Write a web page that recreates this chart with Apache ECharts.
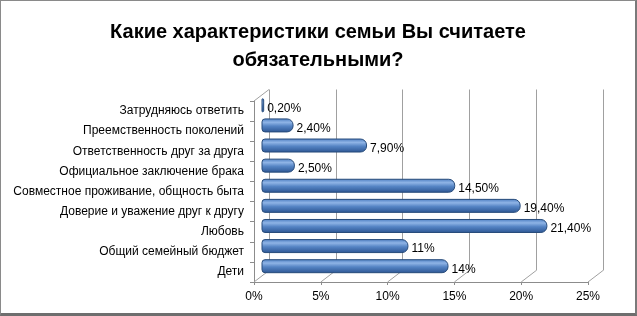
<!DOCTYPE html>
<html><head><meta charset="utf-8">
<script src="https://cdn.jsdelivr.net/npm/echarts@6/dist/echarts.min.js"></script>
<style>
html,body{margin:0;padding:0;background:#fff;}
#c{width:637px;height:316px;box-sizing:border-box;border-left:1px solid #8a8a8a;border-top:1px solid #8a8a8a;border-right:2px solid #7a7a7a;border-bottom:3px solid #6e6e6e;}
</style></head>
<body><div id="c"></div>
<script>
const categories = ["Дети","Общий семейный бюджет","Любовь","Доверие и уважение друг к другу","Совместное проживание, общность быта","Официальное заключение брака","Ответственность друг за друга","Преемственность поколений","Затрудняюсь ответить"];
const values = [14, 11, 21.4, 19.4, 14.5, 2.5, 7.9, 2.4, 0.2];
const valueLabels = ["14%","11%","21,40%","19,40%","14,50%","2,50%","7,90%","2,40%","0,20%"];
const tickValues = [0, 5, 10, 15, 20, 25];
const titleText = "Какие характеристики семьи Вы считаете\nобязательными?";

const FRONT = {left: 253, top: 100, right: 587, bottom: 281};
const DX = 15, DY = -11.5;
function gridAt(f){
  return {left: FRONT.left + DX*f, top: FRONT.top + DY*f, width: FRONT.right - FRONT.left, height: FRONT.bottom - FRONT.top};
}
const FONT = "Liberation Sans";
const chart = echarts.init(document.getElementById('c'), null, {renderer:'canvas'});
const xBase = {type:'value', min:0, max:25, interval:5};
const yBase = {type:'category', data:categories};
const option = {
  animation:false,
  title:{text:titleText, left:'center', top:12, textStyle:{fontFamily:FONT, fontSize:20, fontWeight:'bold', color:'#000', lineHeight:28}},
  grid:[gridAt(1), gridAt(0), gridAt(0.5)],
  xAxis:[
    Object.assign({}, xBase, {gridIndex:0, axisLine:{show:false}, axisTick:{show:false}, axisLabel:{show:false},
      splitLine:{show:true, lineStyle:{color:'#a0a0a0', width:1}}}),
    Object.assign({}, xBase, {gridIndex:1, axisLine:{show:true, lineStyle:{color:'#8c8c8c'}}, axisTick:{show:true, length:3, lineStyle:{color:'#8c8c8c'}},
      splitLine:{show:false},
      axisLabel:{margin:9, fontFamily:FONT, fontSize:12, color:'#000', formatter: v => v + '%'}}),
    Object.assign({}, xBase, {gridIndex:2, show:false, splitLine:{show:false}})
  ],
  yAxis:[
    Object.assign({}, yBase, {gridIndex:0, show:false}),
    Object.assign({}, yBase, {gridIndex:1, axisLine:{show:true, lineStyle:{color:'#8c8c8c'}}, axisTick:{show:true, length:4, lineStyle:{color:'#8c8c8c'}},
      axisLabel:{margin:10, fontFamily:FONT, fontSize:12, color:'#000'}}),
    Object.assign({}, yBase, {gridIndex:2, show:false})
  ],
  series:[
    {
      type:'custom', xAxisIndex:1, yAxisIndex:1, silent:true, z:1,
      data: tickValues.map(v => [v]),
      renderItem: function(params, api){
        const p = api.coord([api.value(0), categories[0]]);
        const cs = params.coordSys;
        const yb = cs.y + cs.height;
        const children = [{type:'line', shape:{x1:p[0], y1:yb, x2:p[0]+DX, y2:yb+DY}, style:{stroke:'#a0a0a0', lineWidth:1}}];
        if (api.value(0) === 0) {
          children.push({type:'line', shape:{x1:cs.x, y1:cs.y, x2:cs.x+DX, y2:cs.y+DY}, style:{stroke:'#a0a0a0', lineWidth:1}});
        }
        return {type:'group', children:children};
      }
    },
    {
      type:'bar', xAxisIndex:2, yAxisIndex:2, z:3,
      data: values,
      barWidth:14,
      itemStyle:{
        borderRadius:[3,6,6,3],
        borderColor:'#274b7a', borderWidth:1,
        color:{type:'linear', x:0, y:0, x2:0, y2:1, colorStops:[
          {offset:0, color:'#4a7cc0'},
          {offset:0.28, color:'#8fb4e6'},
          {offset:0.55, color:'#5584c4'},
          {offset:1, color:'#2c5592'}
        ]}
      },
      label:{show:true, position:'right', distance:3, fontFamily:FONT, fontSize:12, color:'#000',
        offset:[0,3], formatter: p => valueLabels[p.dataIndex]}
    }
  ]
};
chart.setOption(option);
</script></body></html>
